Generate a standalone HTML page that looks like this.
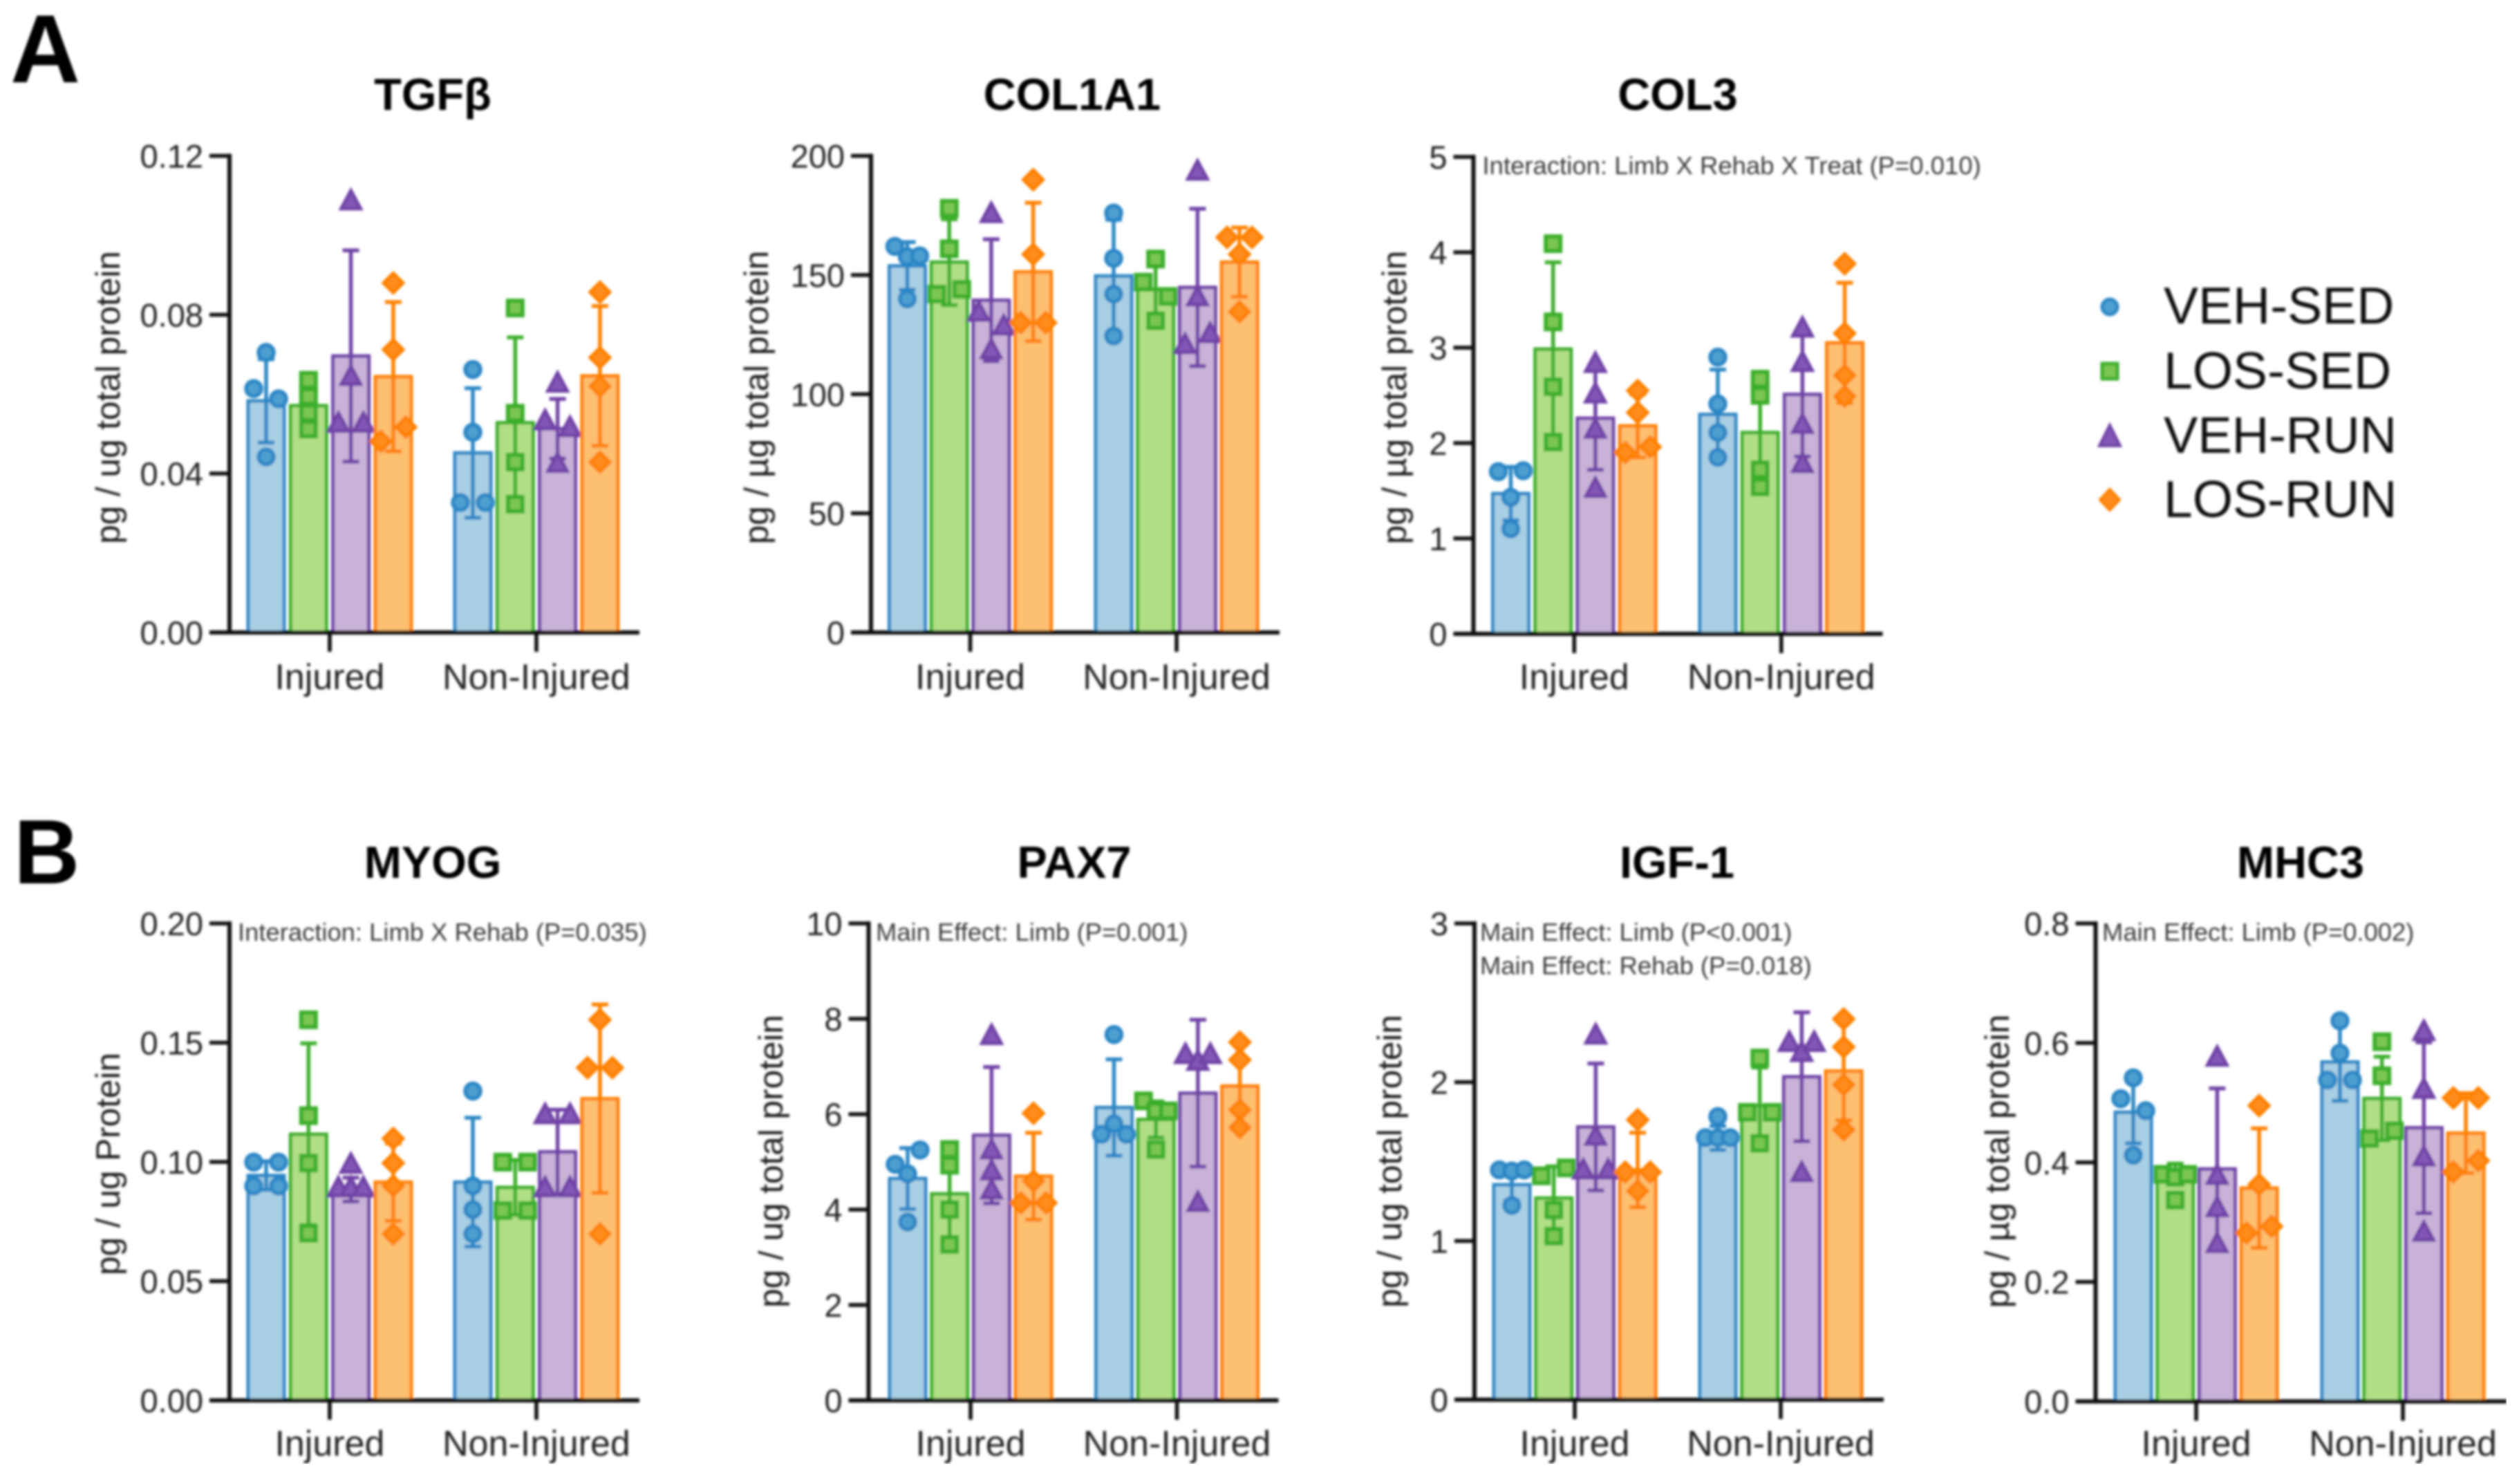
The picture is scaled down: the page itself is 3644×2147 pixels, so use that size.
<!DOCTYPE html>
<html lang="en">
<head>
<meta charset="utf-8">
<title>Protein panels</title>
<style>
html,body{margin:0;padding:0;background:#fff;}
svg{display:block;}
text{font-family:"Liberation Sans",sans-serif;}
</style>
</head>
<body>
<svg id="figure" xmlns="http://www.w3.org/2000/svg" width="3644" height="2147" viewBox="0 0 3644 2147">
<defs><filter id="soft" x="0" y="0" width="100%" height="100%"><feGaussianBlur stdDeviation="1.9"/></filter></defs>
<rect width="3644" height="2147" fill="#fff"/>
<g id="root" filter="url(#soft)">
<text x="15" y="119" font-size="140" font-weight="bold" fill="#000">A</text>
<text x="20" y="1278" font-size="132" font-weight="bold" fill="#000">B</text>
<g>
<g>
<circle cx="3052" cy="444" r="11" fill="#4e9fd0" stroke="#2b86c5" stroke-width="5"/>
<text x="3130" y="468" font-size="75" fill="#111">VEH-SED</text>
</g>
<g>
<rect x="3041" y="526" width="22" height="22" fill="#7cc653" stroke="#3aae2b" stroke-width="5"/>
<text x="3130" y="562" font-size="75" fill="#111">LOS-SED</text>
</g>
<g>
<polygon points="3052,615 3067,645 3037,645" fill="#8257b5" stroke="#6f42a6" stroke-width="4"/>
<text x="3130" y="655" font-size="74" fill="#111">VEH-RUN</text>
</g>
<g>
<polygon points="3052,708 3066,723 3052,738 3038,723" fill="#ff8c1a" stroke="#ff8000" stroke-width="4"/>
<text x="3130" y="748" font-size="75" fill="#111">LOS-RUN</text>
</g>
</g>
</g>
</svg>
<script>
// Shared categories
const groupLabels = ['Injured', 'Non-Injured'];
const seriesNames = ['VEH-SED', 'LOS-SED', 'VEH-RUN', 'LOS-RUN'];

// Each chart: means / sd are listed VEH-SED, LOS-SED, VEH-RUN, LOS-RUN for Injured then Non-Injured.
const tgfbTicks = ['0.00', '0.04', '0.08', '0.12'];
const tgfbMeans = [0.0583, 0.0571, 0.0696, 0.0644, 0.0452, 0.0528, 0.0513, 0.0646];
const tgfbSd = [0.0105, 0.005, 0.0266, 0.0188, 0.0163, 0.0215, 0.0075, 0.0176];
const tgfbPoints = [
  [0.0705, 0.0614, 0.0588, 0.0442], [0.0635, 0.0594, 0.0553, 0.0512], [0.1088, 0.0646, 0.0528, 0.0528], [0.088, 0.0712, 0.0481, 0.0517],
  [0.0662, 0.0504, 0.0327, 0.0327], [0.0817, 0.0552, 0.0429, 0.0323], [0.0629, 0.0534, 0.0517, 0.0427], [0.0857, 0.0692, 0.062, 0.0429]
];

const col1a1Ticks = ['0', '50', '100', '150', '200'];
const col1a1Means = [153.8, 155.4, 139.4, 151.3, 149.6, 144, 144.8, 155.4];
const col1a1Sd = [10, 18, 25.6, 29, 23.6, 11, 33, 14.5];
const col1a1Points = [
  [162, 157.7, 158, 140], [178, 161, 142, 144], [176, 134.6, 128.8, 118.8], [190, 158.7, 130, 130],
  [176, 157, 142, 124.4], [156.7, 147, 141, 130.8], [193.8, 141, 121, 125.6], [165.8, 165.8, 158.7, 134.6]
];

const col3Ticks = ['0', '1', '2', '3', '4', '5'];
const col3Means = [1.47, 2.985, 2.26, 2.18, 2.3, 2.11, 2.51, 3.05];
const col3Sd = [0.28, 0.91, 0.54, 0.33, 0.47, 0.6, 0.65, 0.63];
const col3Points = [
  [1.7, 1.71, 1.43, 1.1], [4.09, 3.27, 2.59, 2.01], [2.84, 2.52, 2.15, 1.53], [2.55, 2.32, 1.9, 1.96],
  [2.9, 2.41, 2.11, 1.85], [2.67, 2.5, 1.72, 1.54], [3.21, 2.85, 2.2, 1.79], [3.88, 3.15, 2.71, 2.49]
];

const myogTicks = ['0.00', '0.05', '0.10', '0.15', '0.20'];
const myogMeans = [0.0943, 0.1116, 0.0884, 0.0915, 0.0915, 0.0893, 0.1042, 0.1265];
const myogSd = [0.006, 0.0381, 0.005, 0.0162, 0.027, 0.0115, 0.0177, 0.0395];
const myogPoints = [
  [0.0999, 0.0999, 0.0899, 0.0899], [0.1596, 0.1194, 0.0995, 0.0701], [0.0992, 0.0893, 0.0893, 0.0893], [0.1098, 0.0995, 0.0899, 0.0698],
  [0.1297, 0.0899, 0.08, 0.0698], [0.0999, 0.0999, 0.0796, 0.0796], [0.12, 0.12, 0.0893, 0.0893], [0.1596, 0.1395, 0.1395, 0.0698]
];

const pax7Ticks = ['0', '2', '4', '6', '8', '10'];
const pax7Means = [4.65, 4.33, 5.56, 4.7, 6.14, 5.89, 6.44, 6.59];
const pax7Sd = [0.64, 0.93, 1.43, 0.91, 1.01, 0.38, 1.54, 0.87];
const pax7Points = [
  [4.95, 5.25, 4.75, 3.74], [5.26, 4.93, 4.0, 3.27], [7.66, 5.26, 4.82, 4.42], [6.02, 4.6, 4.14, 4.14],
  [7.67, 5.58, 5.8, 5.58], [6.28, 6.07, 6.07, 5.26], [7.26, 7.12, 7.26, 4.16], [7.51, 7.14, 6.09, 5.72]
];

const igf1Ticks = ['0', '1', '2', '3'];
const igf1Means = [1.354, 1.27, 1.718, 1.447, 1.648, 1.852, 2.034, 2.07];
const igf1Sd = [0.1, 0.2, 0.4, 0.235, 0.075, 0.24, 0.406, 0.31];
const igf1Points = [
  [1.447, 1.44, 1.447, 1.223], [1.41, 1.46, 1.195, 1.03], [2.3, 1.662, 1.45, 1.45], [1.763, 1.433, 1.433, 1.315],
  [1.783, 1.65, 1.65, 1.65], [2.152, 1.81, 1.81, 1.615], [2.253, 2.19, 2.253, 1.433], [2.398, 2.222, 1.984, 1.7]
];

const mhc3Ticks = ['0.0', '0.2', '0.4', '0.6', '0.8'];
const mhc3Means = [0.484, 0.388, 0.389, 0.357, 0.568, 0.507, 0.458, 0.449];
const mhc3Sd = [0.052, 0.01, 0.135, 0.1, 0.065, 0.07, 0.143, 0.067];
const mhc3Points = [
  [0.5415, 0.5066, 0.4865, 0.412], [0.38, 0.375, 0.38, 0.337], [0.577, 0.379, 0.325, 0.265], [0.495, 0.363, 0.282, 0.293],
  [0.637, 0.583, 0.538, 0.538], [0.602, 0.545, 0.44, 0.453], [0.62, 0.523, 0.41, 0.284], [0.508, 0.508, 0.384, 0.403]
];

const charts = [
  {id:'tgfb', title:'TGFβ', yLabel:'pg / ug total protein', ticks:tgfbTicks, means:tgfbMeans, sd:tgfbSd, points:tgfbPoints, notes:[], box:{axis:332, top:225.5, base:915, end:925, x0:385, step:61.3, group:299, titleX:626, titleY:159, labelX:173, labelY:575, catY:997, noteX:0}},
  {id:'col1a1', title:'COL1A1', yLabel:'pg / µg total protein', ticks:col1a1Ticks, means:col1a1Means, sd:col1a1Sd, points:col1a1Points, notes:[], box:{axis:1260, top:225.5, base:915, end:1851, x0:1312.5, step:60.7, group:298.5, titleX:1551, titleY:159, labelX:1111, labelY:575, catY:997, noteX:0}},
  {id:'col3', title:'COL3', yLabel:'pg / µg total protein', ticks:col3Ticks, means:col3Means, sd:col3Sd, points:col3Points, notes:['Interaction: Limb X Rehab X Treat (P=0.010)'], box:{axis:2131.5, top:227, base:917, end:2723.5, x0:2185.5, step:61.2, group:299.5, titleX:2427, titleY:159, labelX:2034, labelY:575, catY:997, noteX:2144.5, noteY:252, noteSize:36.5}},
  {id:'myog', title:'MYOG', yLabel:'pg / ug Protein', ticks:myogTicks, means:myogMeans, sd:myogSd, points:myogPoints, notes:['Interaction: Limb X Rehab (P=0.035)'], box:{axis:332, top:1336, base:2026, end:925, x0:385, step:61.3, group:299, titleX:626, titleY:1270, labelX:173, labelY:1684, catY:2106, noteX:344, noteY:1361, noteSize:36.4}},
  {id:'pax7', title:'PAX7', yLabel:'pg / ug total protein', ticks:pax7Ticks, means:pax7Means, sd:pax7Sd, points:pax7Points, notes:['Main Effect: Limb (P=0.001)'], box:{axis:1256.5, top:1336, base:2026, end:1849.5, x0:1313, step:60.7, group:298.5, titleX:1554, titleY:1270, labelX:1132, labelY:1680, catY:2106, noteX:1267, noteY:1361, noteSize:36.4}},
  {id:'igf1', title:'IGF-1', yLabel:'pg / ug total protein', ticks:igf1Ticks, means:igf1Means, sd:igf1Sd, points:igf1Points, notes:['Main Effect: Limb (P<0.001)', 'Main Effect: Rehab (P=0.018)'], box:{axis:2133, top:1336, base:2025, end:2725, x0:2187, step:60.7, group:298, titleX:2426, titleY:1270, labelX:2027, labelY:1680, catY:2106, noteX:2141, noteY:1361, noteSize:36.4}},
  {id:'mhc3', title:'MHC3', yLabel:'pg / µg total protein', ticks:mhc3Ticks, means:mhc3Means, sd:mhc3Sd, points:mhc3Points, notes:['Main Effect: Limb (P=0.002)'], box:{axis:3031.5, top:1336, base:2027.5, end:3626, x0:3086, step:60.7, group:299, titleX:3328, titleY:1270, labelX:2906, labelY:1680, catY:2106, noteX:3041, noteY:1361, noteSize:36.4}}
];

const seriesStyles = [
  {fill:'#a8cfe4', line:'#2b86c5', mark:'#4e9fd0', shape:'circle'},
  {fill:'#b1df86', line:'#3aae2b', mark:'#7cc653', shape:'square'},
  {fill:'#c8b2d8', line:'#6f42a6', mark:'#8257b5', shape:'triangle'},
  {fill:'#fdbf70', line:'#ff8000', mark:'#ff8c1a', shape:'diamond'}
];

const SVG_NS = 'http://www.w3.org/2000/svg';
const root = document.getElementById('root');

function make(parent, tag, attrs, text) {
  const node = document.createElementNS(SVG_NS, tag);
  for (const key in attrs) node.setAttribute(key, attrs[key]);
  if (text !== undefined) node.textContent = text;
  parent.appendChild(node);
  return node;
}

// Side-by-side placement: neighbouring values closer than the gap spread into lanes.
function dodge(pixelYs) {
  const lanes = pixelYs.map(function () { return 0; });
  let start = 0;
  for (let i = 1; i <= pixelYs.length; i++) {
    if (i === pixelYs.length || Math.abs(pixelYs[i] - pixelYs[i - 1]) >= 22) {
      const count = i - start;
      for (let k = 0; k < count; k++) {
        if (count === 2) lanes[start + k] = k === 0 ? -1 : 1;
        else if (count > 2) lanes[start + k] = (k - (count - 1) / 2) * 2 / (count - 1);
      }
      start = i;
    }
  }
  return lanes;
}

function drawMarker(parent, style, cx, cy) {
  if (style.shape === 'circle') {
    return make(parent, 'circle', {cx:cx, cy:cy, r:11, fill:style.mark, stroke:style.line, 'stroke-width':5.5});
  }
  if (style.shape === 'square') {
    return make(parent, 'rect', {x:cx - 10.5, y:cy - 10.5, width:21, height:21, fill:style.mark, stroke:style.line, 'stroke-width':6});
  }
  if (style.shape === 'triangle') {
    return make(parent, 'polygon', {points:(cx) + ',' + (cy - 14) + ' ' + (cx + 14) + ',' + (cy + 12) + ' ' + (cx - 14) + ',' + (cy + 12), fill:style.mark, stroke:style.line, 'stroke-width':5});
  }
  return make(parent, 'polygon', {points:(cx) + ',' + (cy - 14) + ' ' + (cx + 14) + ',' + (cy) + ' ' + (cx) + ',' + (cy + 14) + ' ' + (cx - 14) + ',' + (cy), fill:style.mark, stroke:style.line, 'stroke-width':5});
}

charts.forEach(function (chart) {
  const box = chart.box;
  const yMax = parseFloat(chart.ticks[chart.ticks.length - 1]);
  const yScale = function (v) { return box.base - (v / yMax) * (box.base - box.top); };
  const xScale = function (group, series) { return box.x0 + group * box.group + series * box.step; };
  const groupCentre = function (group) { return xScale(group, 1.5); };
  const ink = '#0a0a0a';

  const panel = make(root, 'g', {});
  
  

  const title = make(panel, 'text', {x:box.titleX, y:box.titleY, 'font-size':65, 'font-weight':'bold', 'text-anchor':'middle', fill:'#000'}, chart.title);
  
  

  const yTitle = make(panel, 'text', {transform:'translate(' + box.labelX + ',' + box.labelY + ') rotate(-90)', 'font-size':49.5, 'text-anchor':'middle', fill:'#1a1a1a'}, chart.yLabel);
  
  

  // Bars, error bars and points
  chart.means.forEach(function (mean, index) {
    const series = index % 4;
    const group = Math.floor(index / 4);
    const style = seriesStyles[series];
    const cx = xScale(group, series);
    const slug = seriesNames[series].toLowerCase() + '-' + groupLabels[group].toLowerCase();

    const bar = make(panel, 'rect', {x:cx - 26, y:yScale(mean), width:52, height:box.base - yScale(mean), fill:style.fill, stroke:style.line, 'stroke-width':5});
    
    

    const hi = yScale(mean + chart.sd[index]);
    const lo = yScale(mean - chart.sd[index]);
    const error = make(panel, 'path', {d:'M' + cx + ' ' + hi + 'V' + lo + 'M' + (cx - 12) + ' ' + hi + 'H' + (cx + 12) + 'M' + (cx - 12) + ' ' + lo + 'H' + (cx + 12), fill:'none', stroke:style.line, 'stroke-width':5.5});
    
    

    const ys = chart.points[index].map(yScale);
    const lanes = dodge(ys);
    ys.forEach(function (py, i) {
      const marker = drawMarker(panel, style, cx + lanes[i] * 18, py);
      
      
    });
  });

  // Axes
  const yAxis = make(panel, 'line', {x1:box.axis, y1:box.top - 3, x2:box.axis, y2:box.base + 3, stroke:ink, 'stroke-width':6});
  
  

  const xAxis = make(panel, 'line', {x1:box.axis - 29, y1:box.base, x2:box.end, y2:box.base, stroke:ink, 'stroke-width':6});
  
  

  chart.ticks.forEach(function (label) {
    const py = yScale(parseFloat(label));
    const tick = make(panel, 'line', {x1:box.axis - 29, y1:py, x2:box.axis, y2:py, stroke:ink, 'stroke-width':5.5});
    
    
    const tickText = make(panel, 'text', {x:box.axis - 38, y:py + 17, 'font-size':47, 'text-anchor':'end', fill:'#222'}, label);
    
    
  });

  groupLabels.forEach(function (label, group) {
    const cx = groupCentre(group);
    const tick = make(panel, 'line', {x1:cx, y1:box.base, x2:cx, y2:box.base + 28, stroke:ink, 'stroke-width':5.5});
    
    
    const catText = make(panel, 'text', {x:cx, y:box.catY, 'font-size':52, 'text-anchor':'middle', fill:'#222'}, label);
    
    
  });

  chart.notes.forEach(function (note, i) {
    const noteText = make(panel, 'text', {x:box.noteX, y:box.noteY + i * 48.5, 'font-size':box.noteSize, fill:'#3a3a3a'}, note);
    
    
  });
});
</script>
</body>
</html>
